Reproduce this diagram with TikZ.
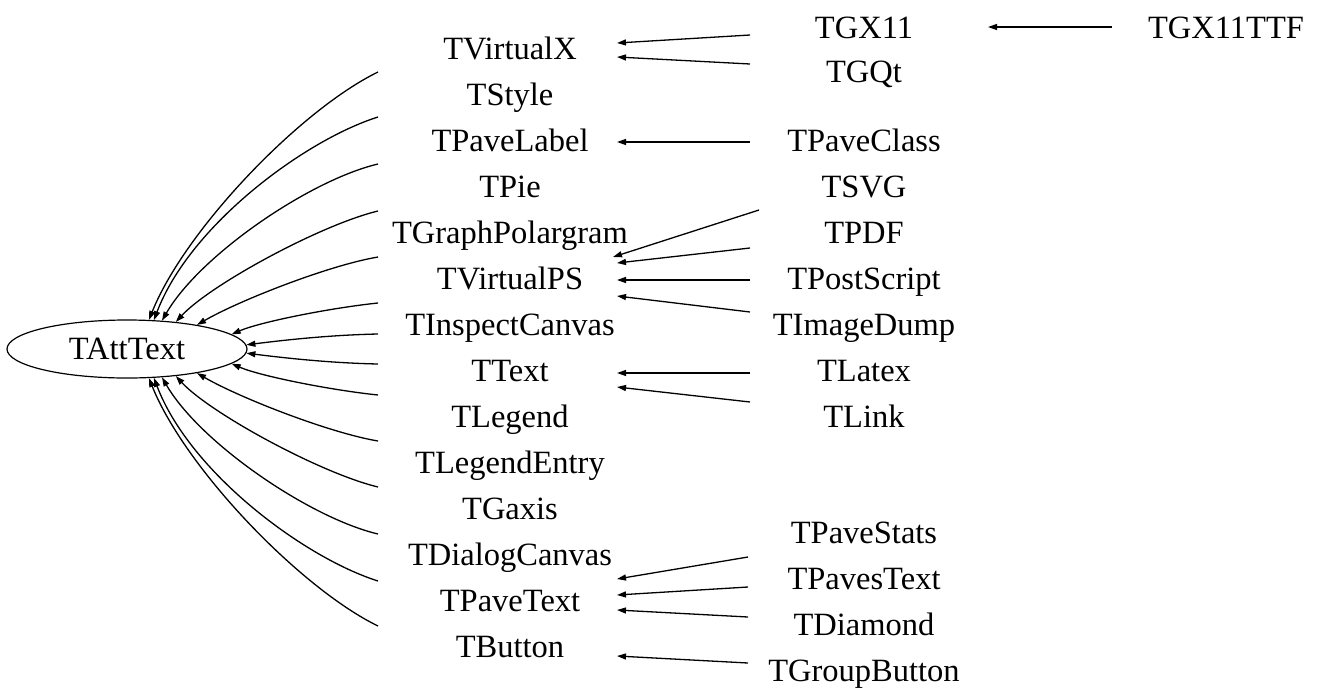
\documentclass[tikz,border=0pt]{standalone}
\usepackage{fontspec}
\setmainfont{Liberation Serif}
\usetikzlibrary{arrows.meta,shapes.geometric}
\begin{document}
\begin{tikzpicture}[x=1pt,y=-1pt,
  lbl/.style={anchor=base,inner sep=0pt,font=\fontsize{32.5}{38}\selectfont},
  edge/.style={line width=1.3pt,-{Triangle[length=9pt,width=6pt]}},
]
\useasboundingbox (0,0) rectangle (1320,689);
% root
\node[ellipse,draw,line width=1.2pt,minimum width=240pt,minimum height=58pt,inner sep=0pt,
      font=\fontsize{32.5}{38}\selectfont] (att) at (127,349) {TAttText};
% middle column
\node[lbl] (TVirtualX) at (510,59) {TVirtualX};
\node[lbl] (TStyle) at (510,105) {TStyle};
\node[lbl] (TPaveLabel) at (510,151) {TPaveLabel};
\node[lbl] (TPie) at (510,197) {TPie};
\node[lbl] (TGraphPolargram) at (510,243) {TGraphPolargram};
\node[lbl] (TVirtualPS) at (510,289) {TVirtualPS};
\node[lbl] (TInspectCanvas) at (510,335) {TInspectCanvas};
\node[lbl] (TText) at (510,381) {TText};
\node[lbl] (TLegend) at (510,427) {TLegend};
\node[lbl] (TLegendEntry) at (510,473) {TLegendEntry};
\node[lbl] (TGaxis) at (510,519) {TGaxis};
\node[lbl] (TDialogCanvas) at (510,565) {TDialogCanvas};
\node[lbl] (TPaveText) at (510,611) {TPaveText};
\node[lbl] (TButton) at (510,657) {TButton};
% right column
\node[lbl] (TGX11) at (864,38) {TGX11};
\node[lbl] (TGQt) at (864,82) {TGQt};
\node[lbl] (TPaveClass) at (864,151) {TPaveClass};
\node[lbl] (TSVG) at (864,197) {TSVG};
\node[lbl] (TPDF) at (864,243) {TPDF};
\node[lbl] (TPostScript) at (864,289) {TPostScript};
\node[lbl] (TImageDump) at (864,335) {TImageDump};
\node[lbl] (TLatex) at (864,381) {TLatex};
\node[lbl] (TLink) at (864,427) {TLink};
\node[lbl] (TPaveStats) at (864,543) {TPaveStats};
\node[lbl] (TPavesText) at (864,589) {TPavesText};
\node[lbl] (TDiamond) at (864,635) {TDiamond};
\node[lbl] (TGroupButton) at (864,681) {TGroupButton};
\node[lbl] (TGX11TTF) at (1226,38) {TGX11TTF};
% edge ends of middle column (tails)
\coordinate (tVirtualX) at (378,72);
\coordinate (tStyle) at (378,117);
\coordinate (tPaveLabel) at (378,164);
\coordinate (tPie) at (378,211);
\coordinate (tGraphPolargram) at (378,257);
\coordinate (tVirtualPS) at (378,303);
\coordinate (tInspectCanvas) at (378,334);
\coordinate (tText) at (378,364);
\coordinate (tLegend) at (378,395);
\coordinate (tLegendEntry) at (378,441);
\coordinate (tGaxis) at (378,487);
\coordinate (tDialogCanvas) at (378,534);
\coordinate (tPaveText) at (378,581);
\coordinate (tButton) at (378,626);
% edges to TAttText
\draw[edge] (tVirtualX) .. controls (300,110) and (185,230) .. (att.53);
\draw[edge] (tStyle) .. controls (305,140) and (190,225) .. (att.47);
\draw[edge] (tPaveLabel) .. controls (310,180) and (200,255) .. (att.39);
\draw[edge] (tPie) .. controls (320,225) and (210,285) .. (att.29);
\draw[edge] (tGraphPolargram) .. controls (330,265) and (240,300) .. (att.19.5);
\draw[edge] (tVirtualPS) .. controls (330,308) and (260,322) .. (att.8.6);
\draw[edge] (tInspectCanvas) .. controls (330,335) and (285,340) .. (att.2.4);
\draw[edge] (tText) .. controls (330,363) and (285,358) .. (att.-2.4);
\draw[edge] (tLegend) .. controls (330,390) and (260,376) .. (att.-8.6);
\draw[edge] (tLegendEntry) .. controls (330,433) and (240,398) .. (att.-19.5);
\draw[edge] (tGaxis) .. controls (320,473) and (210,413) .. (att.-29);
\draw[edge] (tDialogCanvas) .. controls (310,518) and (200,443) .. (att.-39);
\draw[edge] (tPaveText) .. controls (305,558) and (190,473) .. (att.-47);
\draw[edge] (tButton) .. controls (300,588) and (185,468) .. (att.-53);
% right column edge ends
\coordinate (sGX11) at (750,35);      \coordinate (hGX11) at (617,43);
\coordinate (sGQt) at (750,64);       \coordinate (hGQt) at (617,57);
\coordinate (sPaveClass) at (750,142);\coordinate (hPaveClass) at (617,142);
\coordinate (sGX11TTF) at (1112,27);  \coordinate (hGX11TTF) at (988,27);
\coordinate (sSVG) at (759,210);      \coordinate (hSVG) at (613,257);
\coordinate (sPDF) at (750,248);      \coordinate (hPDF) at (617,263);
\coordinate (sPostScript) at (750,280);\coordinate (hPostScript) at (617,280);
\coordinate (sImageDump) at (750,312);\coordinate (hImageDump) at (617,296);
\coordinate (sLatex) at (750,373);    \coordinate (hLatex) at (617,373);
\coordinate (sLink) at (750,402);     \coordinate (hLink) at (617,387);
\coordinate (sPaveStats) at (748,557);\coordinate (hPaveStats) at (617,579);
\coordinate (sPavesText) at (748,587);\coordinate (hPavesText) at (617,595);
\coordinate (sDiamond) at (748,617);  \coordinate (hDiamond) at (617,610);
\coordinate (sGroupButton) at (748,663);\coordinate (hGroupButton) at (617,656);
\draw[edge] (sGX11) -- (hGX11);
\draw[edge] (sGQt) -- (hGQt);
\draw[edge] (sPaveClass) -- (hPaveClass);
\draw[edge] (sGX11TTF) -- (hGX11TTF);
\draw[edge] (sSVG) -- (hSVG);
\draw[edge] (sPDF) -- (hPDF);
\draw[edge] (sPostScript) -- (hPostScript);
\draw[edge] (sImageDump) -- (hImageDump);
\draw[edge] (sLatex) -- (hLatex);
\draw[edge] (sLink) -- (hLink);
\draw[edge] (sPaveStats) -- (hPaveStats);
\draw[edge] (sPavesText) -- (hPavesText);
\draw[edge] (sDiamond) -- (hDiamond);
\draw[edge] (sGroupButton) -- (hGroupButton);
\end{tikzpicture}
\end{document}
